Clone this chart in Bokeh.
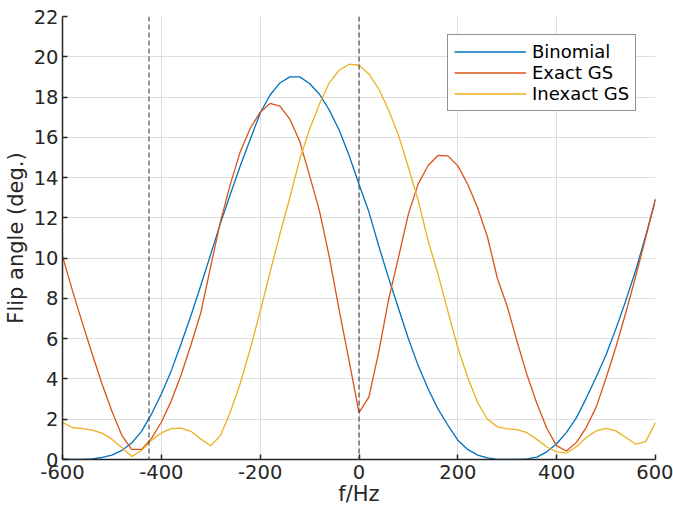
from bokeh.plotting import figure
from bokeh.models import Span, Legend, LegendItem, FixedTicker
from bokeh.embed import file_html
from bokeh.resources import INLINE

freq_hz = [-600, -580, -560, -540, -520, -500, -480, -460, -440, -420,
           -400, -380, -360, -340, -320, -300, -280, -260, -240, -220,
           -200, -180, -160, -140, -120, -100, -80, -60, -40, -20,
           0, 20, 40, 60, 80, 100, 120, 140, 160, 180,
           200, 220, 240, 260, 280, 300, 320, 340, 360, 380,
           400, 420, 440, 460, 480, 500, 520, 540, 560, 580, 600]

binomial = [0.02, 0.0, 0.0, 0.03, 0.1, 0.22, 0.45, 0.82, 1.4, 2.25,
            3.25, 4.4, 5.75, 7.15, 8.65, 10.2, 11.75, 13.2, 14.6, 15.9,
            17.2, 18.1, 18.7, 19.0, 19.0, 18.67, 18.14, 17.35, 16.35, 15.1,
            13.67, 12.3, 10.6, 9.0, 7.5, 6.0, 4.65, 3.5, 2.5, 1.7,
            0.96, 0.5, 0.22, 0.08, 0.01, 0.0, 0.0, 0.03, 0.12, 0.38,
            0.78, 1.35, 2.08, 3.05, 4.1, 5.2, 6.5, 7.9, 9.4, 11.1, 12.9]

exact_gs = [10.1, 8.4, 6.8, 5.25, 3.75, 2.4, 1.2, 0.5, 0.5, 1.05,
            1.85, 2.9, 4.2, 5.7, 7.3, 9.6, 11.85, 13.7, 15.3, 16.45,
            17.25, 17.68, 17.55, 16.9, 15.8, 14.1, 12.35, 10.05, 7.4, 4.9,
            2.33, 3.1, 5.35, 7.95, 10.05, 12.2, 13.7, 14.6, 15.1, 15.08,
            14.58, 13.67, 12.5, 11.05, 9.0, 7.6, 5.85, 4.2, 2.78, 1.55,
            0.68, 0.42, 0.85, 1.6, 2.6, 4.05, 5.6, 7.3, 9.1, 11.0, 12.95]

inexact_gs = [1.84, 1.59, 1.53, 1.46, 1.31, 1.01, 0.6, 0.15, 0.45, 0.95,
              1.32, 1.53, 1.56, 1.4, 1.01, 0.68, 1.2, 2.38, 3.8, 5.5,
              7.35, 9.3, 11.2, 13.0, 14.9, 16.4, 17.65, 18.72, 19.33, 19.63,
              19.58, 19.15, 18.4, 17.35, 16.1, 14.5, 12.85, 10.85, 9.2, 7.35,
              5.55, 4.07, 2.83, 2.0, 1.62, 1.52, 1.48, 1.33, 1.0, 0.62,
              0.38, 0.32, 0.63, 1.09, 1.42, 1.54, 1.42, 1.09, 0.76, 0.89, 1.84]

series_names = ["Binomial", "Exact GS", "Inexact GS"]
series_colors = ["#0072BD", "#D95319", "#EDB120"]
marker_freqs = [-425, 0]
x_ticks = [-600, -400, -200, 0, 200, 400, 600]
x_tick_labels = ["-600", "-400", "-200", "0", "200", "400", "600"]
y_ticks = [0, 2, 4, 6, 8, 10, 12, 14, 16, 18, 20, 22]
x_label = "f/Hz"
y_label = "Flip angle (deg.)"

FONT = "DejaVu Sans"
AX = "#262626"

p = figure(width=673, height=508, x_range=(-600, 600), y_range=(0, 22),
           output_backend="svg", toolbar_location=None,
           min_border_left=62, min_border_right=18, min_border_top=16,
           min_border_bottom=49)
p.outline_line_color = None
p.background_fill_color = "white"

for ax in (p.xaxis[0], p.yaxis[0]):
    ax.axis_line_color = AX
    ax.axis_line_width = 1.5
    ax.major_tick_line_color = AX
    ax.major_tick_line_width = 1.5
    ax.major_tick_in = 5
    ax.major_tick_out = 0
    ax.minor_tick_line_color = None
    ax.major_label_text_font = FONT
    ax.major_label_text_font_size = "19.5px"
    ax.major_label_text_color = AX
    ax.axis_label_text_font = FONT
    ax.axis_label_text_font_size = "21px"
    ax.axis_label_text_color = AX
    ax.axis_label_text_font_style = "normal"

p.xaxis.ticker = FixedTicker(ticks=x_ticks)
p.xaxis.major_label_overrides = dict(zip(x_ticks, x_tick_labels))
p.yaxis.ticker = FixedTicker(ticks=y_ticks)
p.xaxis.axis_label = x_label
p.yaxis.axis_label = y_label
p.xaxis.major_label_standoff = 5
p.xaxis.axis_label_standoff = 0
p.xaxis.axis_label_text_line_height = 0.9
p.yaxis.major_label_standoff = 4
p.yaxis.axis_label_standoff = 3

for g in (p.xgrid[0], p.ygrid[0]):
    g.grid_line_color = "#dedede"
    g.grid_line_width = 1

for m in marker_freqs:
    p.add_layout(Span(location=m, dimension="height", line_color="#4d4d4d",
                      line_dash="5 3", line_width=1.2))

items = []
for name, col, ys in zip(series_names, series_colors, [binomial, exact_gs, inexact_gs]):
    r = p.line(freq_hz, ys, line_color=col, line_width=1.3)
    items.append(LegendItem(label=name, renderers=[r]))

leg = Legend(items=items, location=(385, 348))
leg.label_text_font = FONT
leg.label_text_font_size = "18px"
leg.label_text_color = "#000000"
leg.border_line_color = AX
leg.border_line_width = 1.5
leg.background_fill_color = "white"
leg.background_fill_alpha = 1
leg.glyph_width = 72
leg.glyph_height = 21
leg.label_height = 21
leg.label_standoff = 6
leg.padding = 6
leg.spacing = 0
leg.margin = 0
p.add_layout(leg, "center")

open("out.html", "w").write(file_html(p, INLINE))
